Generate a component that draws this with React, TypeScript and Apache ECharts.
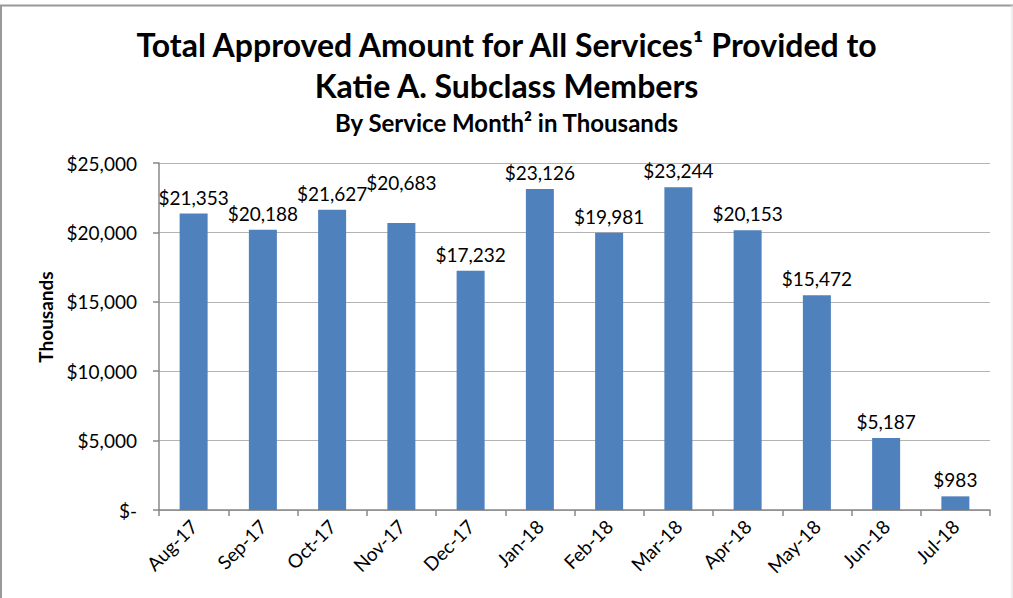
import React, { useEffect, useRef } from "react";
import * as echarts from "echarts";

const months = ["Aug-17", "Sep-17", "Oct-17", "Nov-17", "Dec-17", "Jan-18", "Feb-18", "Mar-18", "Apr-18", "May-18", "Jun-18", "Jul-18"];
const amounts = [21353, 20188, 21627, 20683, 17232, 23126, 19981, 23244, 20153, 15472, 5187, 983];
const titleLine1 = "Total Approved Amount for All Services¹ Provided to";
const titleLine2 = "Katie A. Subclass Members";
const subtitle = "By Service Month² in Thousands";
const yAxisName = "Thousands";

const FONT = "Lato, 'Noto Sans', sans-serif";

function fmt(v: number): string {
  if (v === 0) return "$-";
  return "$" + v.toLocaleString("en-US");
}

export default function App() {
  const ref = useRef<HTMLDivElement>(null);
  useEffect(() => {
    if (!ref.current) return;
    const chart = echarts.init(ref.current, undefined, { renderer: "svg" });
    chart.setOption({
      animation: false,
      backgroundColor: "#ffffff",
      textStyle: { fontFamily: FONT },
      title: [
        {
          text: titleLine1 + "\n" + titleLine2,
          left: "center",
          top: 19,
          textStyle: { fontFamily: FONT, fontSize: 32, fontWeight: "bold", color: "#000", lineHeight: 41 },
        },
        {
          text: subtitle,
          left: "center",
          top: 105,
          textStyle: { fontFamily: FONT, fontSize: 24, fontWeight: "bold", color: "#000" },
        },
      ],
      grid: { left: 159, right: 23, top: 163, bottom: 88, containLabel: false },
      xAxis: {
        type: "category",
        data: months,
        boundaryGap: true,
        axisLine: { lineStyle: { color: "#888", width: 1.5 } },
        axisTick: { show: true, alignWithLabel: false, length: 6, lineStyle: { color: "#888", width: 1.5 } },
        axisLabel: { rotate: 45, color: "#000", fontSize: 19, fontFamily: FONT, margin: 13, interval: 0 },
      },
      yAxis: {
        type: "value",
        min: 0,
        max: 25000,
        interval: 5000,
        axisLine: { show: true, lineStyle: { color: "#888", width: 1.5 } },
        axisTick: { show: true, length: 6, lineStyle: { color: "#888", width: 1.5 } },
        splitLine: { show: true, lineStyle: { color: "#b3b3b3", width: 1 } },
        axisLabel: { color: "#000", fontSize: 19, fontFamily: FONT, margin: 22, formatter: (v: number) => fmt(v) },
      },
      series: [
        {
          type: "bar",
          barWidth: 28,
          itemStyle: { color: "#4F81BD" },
          data: amounts.map((v, i) =>
            i === 3
              ? { value: v, label: { offset: [0, -24] } }
              : { value: v }
          ),
          label: {
            show: true,
            position: "top",
            distance: 7,
            color: "#000",
            fontSize: 19,
            fontFamily: FONT,
            formatter: (p: any) => fmt(p.value),
          },
        },
      ],
      graphic: [
        { type: "line", shape: { x1: 0, y1: 5.5, x2: 1013, y2: 5.5 }, style: { stroke: "#999", lineWidth: 2 } },
        { type: "line", shape: { x1: 1, y1: 5, x2: 1, y2: 598 }, style: { stroke: "#999", lineWidth: 2 } },
        { type: "line", shape: { x1: 1012, y1: 5, x2: 1012, y2: 598 }, style: { stroke: "#ddd", lineWidth: 1 } },
        {
          type: "text",
          x: 45,
          y: 317,
          rotation: Math.PI / 2,
          style: {
            text: yAxisName,
            fontFamily: FONT,
            fontSize: 19,
            fontWeight: "bold",
            fill: "#000",
            align: "center",
            verticalAlign: "middle",
          },
        },
      ],
    });
    return () => chart.dispose();
  }, []);
  return <div ref={ref} style={{ position: "fixed", left: 0, top: 0, width: 1013, height: 598 }} />;
}
